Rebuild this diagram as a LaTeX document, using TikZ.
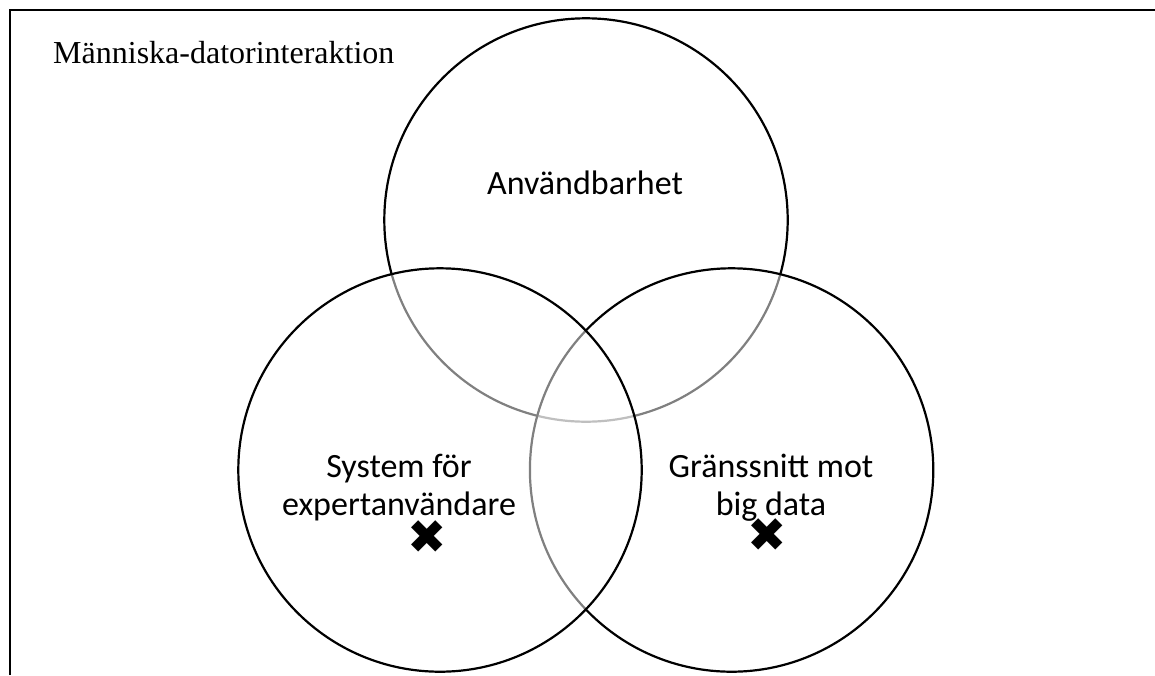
\documentclass[tikz,border=0pt]{standalone}
\usepackage{fontspec}
\setmainfont{Liberation Serif}
\newfontfamily\calibrifont{Carlito}
\newfontfamily\symbfont{DejaVu Sans}
\begin{document}
\begin{tikzpicture}[x=1pt,y=-1pt,
  venn/.style={draw=black, line width=2.2pt, fill=white, fill opacity=0.5},
  frameline/.style={line width=1.6pt},
  lbl/.style={font=\calibrifont\fontsize{34}{38}\selectfont, align=center, inner sep=0pt},
  ttl/.style={font=\fontsize{32}{36}\selectfont, inner sep=0pt},
  xmark/.style={font=\symbfont\fontsize{47}{47}\selectfont, inner sep=0pt}]
\useasboundingbox (0,0) rectangle (1155,675);
\coordinate (fbl) at (10,675);
\coordinate (ftl) at (10,10);
\coordinate (ftr) at (1155,10);
\draw[frameline] (fbl) -- (ftl) -- (ftr);
\path[venn] (586,220) circle[radius=201.7];
\path[venn] (731.6,470) circle[radius=201.7];
\path[venn] (440,470) circle[radius=201.7];
\node[ttl, anchor=base west] (title) at (53,63) {Människa-datorinteraktion};
\node[lbl] (top) at (585,183) {Användbarhet};
\node[lbl] (left) at (399,488) {System för\\expertanvändare};
\node[lbl] (right) at (771,488) {Gränssnitt mot\\big data};
\node[xmark] (xl) at (427.5,537) {✖};
\node[xmark] (xr) at (767.5,535) {✖};
\end{tikzpicture}
\end{document}
